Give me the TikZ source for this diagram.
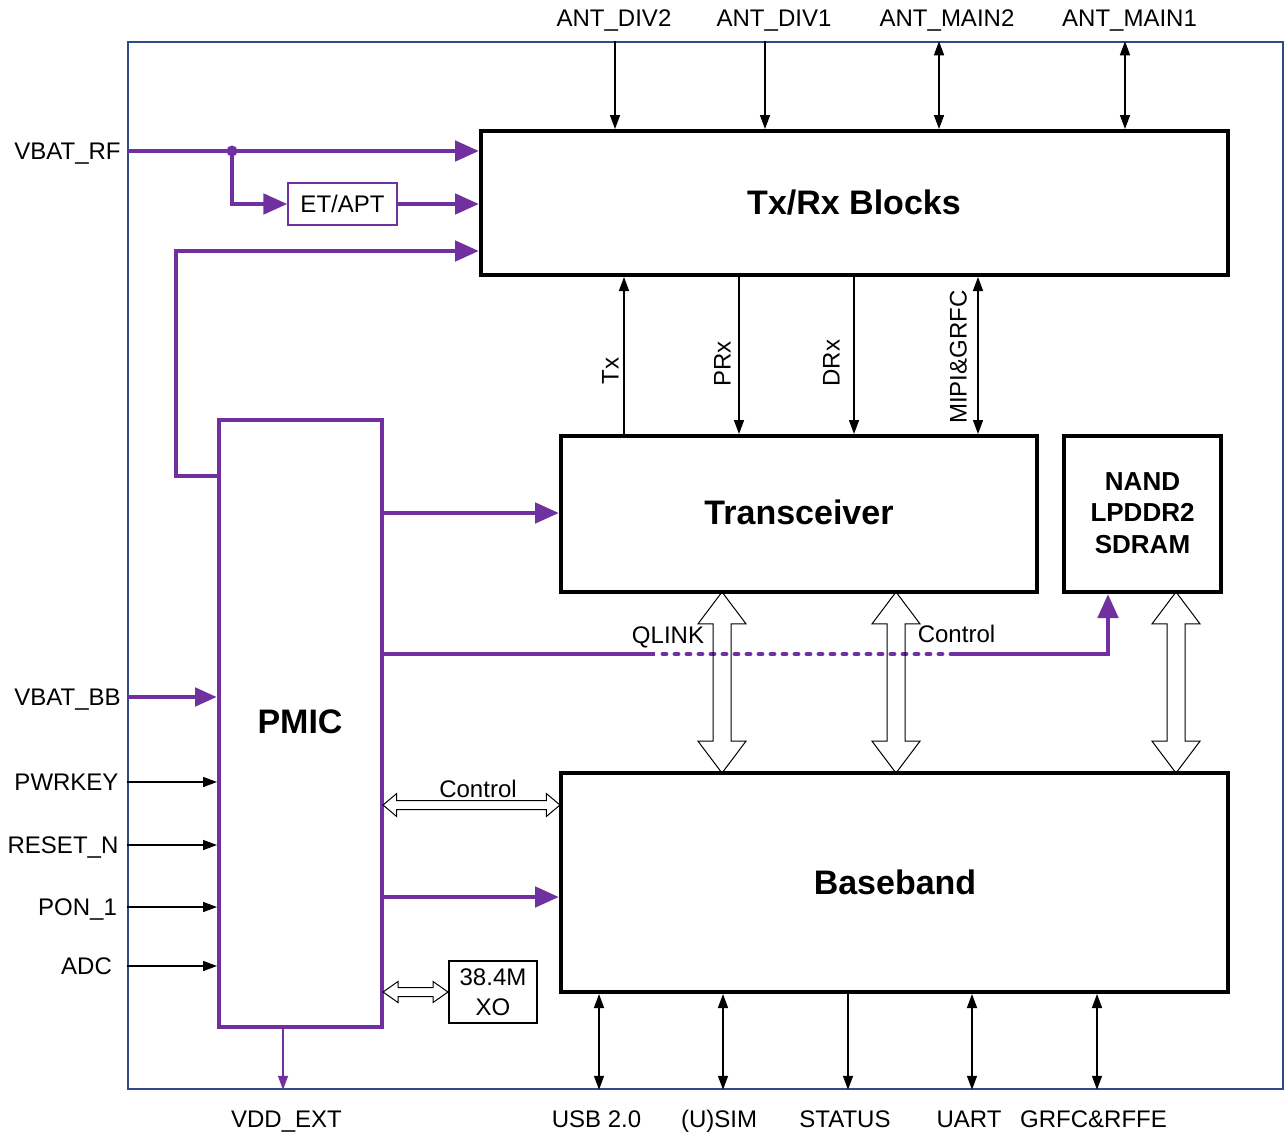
\documentclass[tikz,border=0pt]{standalone}
\usepackage{fontspec}
\setmainfont{Liberation Sans}
\usetikzlibrary{arrows.meta,shapes.arrows,calc}
\definecolor{pur}{HTML}{7030A0}
\definecolor{frm}{HTML}{2F4C88}
\begin{document}
\begin{tikzpicture}[x=1pt,y=-1pt,
 lbl/.style={inner sep=0pt, font=\fontsize{24}{28}\selectfont, text height=17.2pt, text depth=0pt},
 blk/.style={draw=black, line width=4pt, inner sep=0pt},
 ttl/.style={font=\bfseries\fontsize{34}{40}\selectfont, inner sep=0pt, text height=24.5pt, text depth=0pt},
 sig/.style={line width=1.5pt, -{Triangle[length=14pt,width=10pt]}},
 bsig/.style={line width=1.5pt, {Triangle[length=14pt,width=10pt]}-{Triangle[length=14pt,width=10pt]}},
 pw/.style={draw=pur, line width=4.8pt, -{Triangle[length=24pt,width=20pt]}},
 pline/.style={draw=pur, line width=4.8pt},
 hv/.style={draw, double arrow, line width=1pt, inner xsep=0pt, inner ysep=8.5pt, double arrow head extend=15pt, double arrow tip angle=74, minimum height=181pt, rotate=90},
 hh/.style={draw, double arrow, line width=1pt, inner xsep=0pt, inner ysep=4pt, double arrow head extend=7pt, double arrow tip angle=80},
]
\useasboundingbox (0,0) rectangle (1285,1135);
% frame
\node[draw=frm, line width=1.5pt, minimum width=1155pt, minimum height=1047pt, inner sep=0pt] (frame) at (705.5,565.5) {};
% blocks
\node[blk, minimum width=747pt, minimum height=144pt] (txrx) at (854.5,203) {};
\node[ttl] at (854,202) {Tx/Rx Blocks};
\node[blk, minimum width=476pt, minimum height=156pt] (trx) at (799,514) {};
\node[ttl] at (799,512) {Transceiver};
\node[blk, minimum width=157pt, minimum height=156pt] (nand) at (1142.5,514) {};
\node[font=\bfseries\fontsize{26}{31.5}\selectfont, align=center, inner sep=0pt] at (1142.5,513) {NAND\\LPDDR2\\SDRAM};
\node[blk, minimum width=667pt, minimum height=219pt] (bb) at (894.5,882.5) {};
\node[ttl] at (895,882) {Baseband};
\node[draw=pur, line width=4pt, minimum width=163pt, minimum height=607pt, inner sep=0pt] (pmic) at (300.5,723.5) {};
\node[ttl] at (300,721) {PMIC};
\node[draw=pur, line width=1.2pt, minimum width=109pt, minimum height=42pt, inner sep=0pt, font=\fontsize{24}{28}\selectfont] (etapt) at (342.5,204) {ET/APT};
\node[draw=black, line width=1.2pt, minimum width=88pt, minimum height=62pt, inner sep=0pt, font=\fontsize{24}{30}\selectfont, align=center] (xo) at (493,992) {38.4M\\XO};
% top antenna signals
\coordinate (a1) at (615,0); \coordinate (a2) at (765,0);
\coordinate (a3) at (939,0); \coordinate (a4) at (1125,0);
\draw[sig] (frame.north -| a1) -- (txrx.north -| a1);
\draw[sig] (frame.north -| a2) -- (txrx.north -| a2);
\draw[bsig] (frame.north -| a3) -- (txrx.north -| a3);
\draw[bsig] (frame.north -| a4) -- (txrx.north -| a4);
\node[lbl] at (614,18) {ANT\_DIV2};
\node[lbl] at (774,18) {ANT\_DIV1};
\node[lbl] at (947,18) {ANT\_MAIN2};
\node[lbl] at (1129.5,18) {ANT\_MAIN1};
% txrx <-> transceiver
\coordinate (t1) at (624,0); \coordinate (t2) at (739,0);
\coordinate (t3) at (854,0); \coordinate (t4) at (978,0);
\draw[sig] (trx.north -| t1) -- (txrx.south -| t1);
\draw[sig] (txrx.south -| t2) -- (trx.north -| t2);
\draw[sig] (txrx.south -| t3) -- (trx.north -| t3);
\draw[bsig] (trx.north -| t4) -- (txrx.south -| t4);
\node[lbl, rotate=90] at (610,371) {Tx};
\node[lbl, rotate=90] at (722,364) {PRx};
\node[lbl, rotate=90] at (831,363) {DRx};
\node[lbl, rotate=90] at (958,357) {MIPI\&GRFC};
% baseband bottom
\coordinate (b1) at (599,0); \coordinate (b2) at (723,0); \coordinate (b3) at (848,0);
\coordinate (b4) at (972,0); \coordinate (b5) at (1097,0);
\draw[bsig] (bb.south -| b1) -- (frame.south -| b1);
\draw[bsig] (bb.south -| b2) -- (frame.south -| b2);
\draw[sig] (bb.south -| b3) -- (frame.south -| b3);
\draw[bsig] (bb.south -| b4) -- (frame.south -| b4);
\draw[bsig] (bb.south -| b5) -- (frame.south -| b5);
\node[lbl] at (596.5,1119) {USB 2.0};
\node[lbl] at (719,1119) {(U)SIM};
\node[lbl] at (845,1119) {STATUS};
\node[lbl] at (969,1119) {UART};
\node[lbl] at (1093.5,1119) {GRFC\&RFFE};
% VDD_EXT
\coordinate (vx) at (283,0);
\draw[draw=pur, line width=1.5pt, -{Triangle[length=14pt,width=10pt]}] (pmic.south -| vx) -- (frame.south -| vx);
\node[lbl] at (286.5,1119) {VDD\_EXT};
% left inputs
\coordinate (l1) at (0,697); \coordinate (l2) at (0,782); \coordinate (l3) at (0,845);
\coordinate (l4) at (0,907); \coordinate (l5) at (0,966);
\draw[pw, -{Triangle[length=22pt,width=18pt]}] (frame.west |- l1) -- (pmic.west |- l1);
\draw[sig] (frame.west |- l2) -- (pmic.west |- l2);
\draw[sig] (frame.west |- l3) -- (pmic.west |- l3);
\draw[sig] (frame.west |- l4) -- (pmic.west |- l4);
\draw[sig] (frame.west |- l5) -- (pmic.west |- l5);
\node[lbl] at (67.5,697) {VBAT\_BB};
\node[lbl] at (66.5,782) {PWRKEY};
\node[lbl] at (63,845) {RESET\_N};
\node[lbl] at (77.5,907) {PON\_1};
\node[lbl] at (86.5,966) {ADC};
% VBAT_RF
\coordinate (vr) at (0,151); \coordinate (jn) at (232,151);
\draw[pw] (frame.west |- vr) -- (txrx.west |- vr);
\fill[pur] (jn) circle (5.5pt);
\draw[pw] (jn) |- (etapt.west);
\draw[pw] (etapt.east) -- (txrx.west |- etapt.east);
\node[lbl] at (67.5,151) {VBAT\_RF};
% PMIC to TxRx
\coordinate (p1) at (0,476); \coordinate (c1) at (176,251);
\draw[pw] (pmic.west |- p1) -| (c1) -- (txrx.west |- c1);
% PMIC to transceiver and baseband
\coordinate (p2) at (0,513); \coordinate (p3) at (0,897);
\draw[pw] (pmic.east |- p2) -- (trx.west |- p2);
\draw[pw] (pmic.east |- p3) -- (bb.west |- p3);
% QLINK / Control
\coordinate (q1) at (655,654); \coordinate (q2) at (952,654); \coordinate (nx) at (1108,0);
\draw[pline] (pmic.east |- q1) -- (q1);
\draw[pline, line cap=round, dash pattern=on 3pt off 9pt] ($(q1)+(8,0)$) -- (q2);
\draw[pw] (q2) -| (nand.south -| nx);
\node[lbl] at (668,635) {QLINK};
\node[lbl] at (956.5,634) {Control};
% hollow buses
\node[hv] (h1) at (722,682.5) {};
\node[hv] (h2) at (896,682.5) {};
\node[hv] (h3) at (1176,682.5) {};
\node[hh, minimum height=177pt] (h4) at (471.5,805) {};
\node[lbl] at (478,789) {Control};
\node[hh, minimum height=65pt, double arrow head extend=6pt, double arrow tip angle=70] (h5) at (415.5,992) {};
\end{tikzpicture}
\end{document}
